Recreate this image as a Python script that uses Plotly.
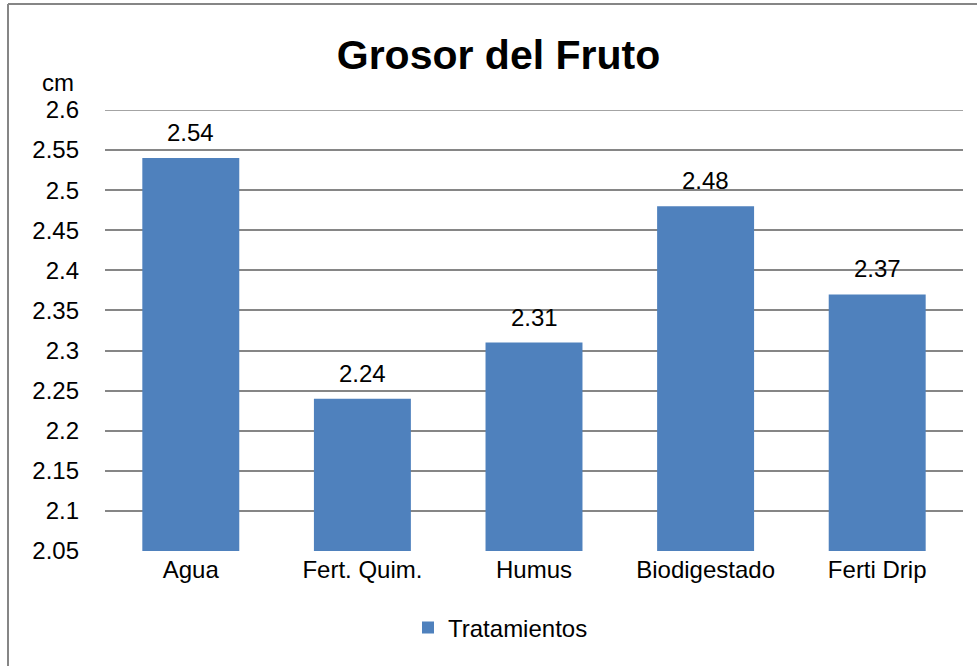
import plotly.graph_objects as go

categories = ["Agua", "Fert. Quim.", "Humus", "Biodigestado", "Ferti Drip"]
values = [2.54, 2.24, 2.31, 2.48, 2.37]
series_name = "Tratamientos"
y_ticks = [2.05, 2.1, 2.15, 2.2, 2.25, 2.3, 2.35, 2.4, 2.45, 2.5, 2.55, 2.6]
y_tick_labels = ["2.05", "2.1", "2.15", "2.2", "2.25", "2.3", "2.35", "2.4", "2.45", "2.5", "2.55", "2.6"]

FONT = "Liberation Sans, Arial, sans-serif"
BAR = "#4F81BD"
GRID = "#868686"
FS = 24

W, H = 977, 666
L, R, T, B = 105, 14, 110, 115
pw, ph = W - L - R, H - T - B

def px_x(p):
    return (p - L) / pw

def px_y(p):
    return (H - B - p) / ph

fig = go.Figure()
fig.add_trace(go.Bar(
    x=categories, y=values, name=series_name,
    marker=dict(color=BAR, line=dict(width=0)),
    cliponaxis=False, showlegend=True,
))

annotations = [dict(text="cm", xref="paper", yref="paper", x=px_x(58), y=px_y(82),
                    xanchor="center", yanchor="middle", showarrow=False,
                    font=dict(family=FONT, size=FS, color="#000"))]
for c, v in zip(categories, values):
    annotations.append(dict(text=f"{v:.2f}", x=c, y=v, xref="x", yref="y",
                            xanchor="center", yanchor="bottom", yshift=10,
                            showarrow=False,
                            font=dict(family=FONT, size=FS, color="#000")))

fig.update_layout(
    width=W, height=H,
    margin=dict(l=L, r=R, t=T, b=B, pad=0),
    paper_bgcolor="white", plot_bgcolor="white",
    font=dict(family=FONT, size=FS, color="#000"),
    bargap=0.435,
    title=dict(text="<b>Grosor del Fruto</b>", x=498.5 / W, xanchor="center",
               y=1 - 55 / H, yanchor="middle",
               font=dict(family=FONT, size=41, color="#000")),
    xaxis=dict(showgrid=False, showline=False, ticks="", zeroline=False,
               ticklabelstandoff=2,
               tickfont=dict(family=FONT, size=FS, color="#000")),
    yaxis=dict(range=[2.05, 2.6], tickvals=y_ticks, ticktext=y_tick_labels,
               showgrid=True, gridcolor=GRID, gridwidth=1.5, zeroline=False,
               showline=False, ticks="", ticklabelstandoff=25,
               tickfont=dict(family=FONT, size=FS, color="#000")),
    legend=dict(orientation="h", x=px_x(408), xanchor="left", y=px_y(628), yanchor="middle",
                font=dict(family=FONT, size=FS, color="#000"),
                itemwidth=30, bgcolor="rgba(0,0,0,0)"),
    annotations=annotations,
    shapes=[
        dict(type="line", xref="paper", yref="y", x0=0, x1=1,
             y0=y_ticks[-1], y1=y_ticks[-1], line=dict(color=GRID, width=1.5), layer="below"),
        dict(type="line", xref="paper", yref="paper", x0=px_x(8), x1=px_x(990),
             y0=px_y(4), y1=px_y(4), line=dict(color=GRID, width=2)),
        dict(type="line", xref="paper", yref="paper", x0=px_x(8), x1=px_x(8),
             y0=px_y(4), y1=px_y(680), line=dict(color=GRID, width=2)),
    ],
)

fig.write_html("out.html", config={"displayModeBar": False},
               post_script="document.body.style.margin='0';")
